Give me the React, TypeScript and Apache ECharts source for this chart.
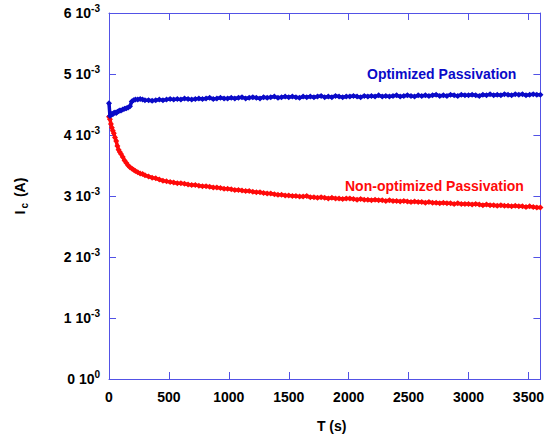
import React, { useEffect, useRef } from "react";
import * as echarts from "echarts";

const times = [
  0, 8, 16, 24, 32, 40, 50, 60, 70, 80, 90, 100, 115, 130, 145, 160, 175, 190, 205, 220, 240, 260, 280, 300,
  330, 360, 390, 420, 450, 480, 510, 540, 570, 600, 630, 660, 690, 720, 750, 780, 810, 840, 870, 900, 930, 960, 990,
  1020, 1050, 1080, 1110, 1140, 1170, 1200, 1230, 1260, 1290, 1320, 1350, 1380, 1410, 1440, 1470, 1500,
  1530, 1560, 1590, 1620, 1650, 1680, 1710, 1740, 1770, 1800, 1830, 1860, 1890, 1920, 1950, 1980, 2010,
  2040, 2070, 2100, 2130, 2160, 2190, 2220, 2250, 2280, 2310, 2340, 2370, 2400, 2430, 2460, 2490, 2520,
  2550, 2580, 2610, 2640, 2670, 2700, 2730, 2760, 2790, 2820, 2850, 2880, 2910, 2940, 2970, 3000,
  3030, 3060, 3090, 3120, 3150, 3180, 3210, 3240, 3270, 3300, 3330, 3360, 3390, 3420, 3450, 3480, 3510,
  3540, 3570, 3600,
];

// values in mA (x 1e-3 A)
const optimized = [
  4.52, 4.31, 4.33, 4.35, 4.34, 4.36, 4.37, 4.36, 4.38, 4.39, 4.40, 4.40, 4.42, 4.43, 4.44, 4.45, 4.47, 4.55, 4.57, 4.58, 4.58, 4.59, 4.58, 4.57,
  4.57, 4.56, 4.57, 4.58, 4.57, 4.58, 4.59, 4.58, 4.59, 4.58, 4.60, 4.59, 4.58, 4.59, 4.60, 4.59, 4.60, 4.61, 4.59, 4.60, 4.61, 4.60, 4.60,
  4.61, 4.60, 4.61, 4.62, 4.60, 4.61, 4.62, 4.61, 4.60, 4.62, 4.61, 4.62, 4.63, 4.61, 4.62, 4.63, 4.62,
  4.63, 4.62, 4.61, 4.63, 4.62, 4.63, 4.62, 4.63, 4.64, 4.62, 4.63, 4.62, 4.64, 4.63, 4.62, 4.63, 4.63,
  4.64, 4.63, 4.62, 4.64, 4.63, 4.64, 4.63, 4.65, 4.63, 4.64, 4.63, 4.64, 4.65, 4.63, 4.64, 4.65, 4.64,
  4.63, 4.65, 4.64, 4.65, 4.64, 4.65, 4.66, 4.64, 4.65, 4.64, 4.66, 4.65, 4.64, 4.66, 4.65, 4.65,
  4.66, 4.65, 4.64, 4.66, 4.65, 4.67, 4.65, 4.66, 4.65, 4.67, 4.66, 4.65, 4.67, 4.66, 4.67, 4.65, 4.66,
  4.67, 4.66, 4.66,
];

const nonOptimized = [
  4.30, 4.26, 4.18, 4.12, 4.07, 4.03, 3.96, 3.90, 3.82, 3.76, 3.72, 3.69, 3.64, 3.58, 3.54, 3.50, 3.47, 3.45, 3.43, 3.41, 3.39, 3.37, 3.36, 3.34,
  3.32, 3.30, 3.29, 3.27, 3.25, 3.24, 3.23, 3.22, 3.21, 3.21, 3.20, 3.19, 3.18, 3.18, 3.17, 3.16, 3.16, 3.15, 3.14, 3.14, 3.13, 3.12, 3.12,
  3.11, 3.10, 3.10, 3.09, 3.08, 3.08, 3.07, 3.06, 3.06, 3.05, 3.04, 3.04, 3.03, 3.02, 3.02, 3.01, 3.01,
  3.00, 3.00, 2.99, 2.99, 3.00, 2.98, 2.98, 2.97, 2.98, 2.97, 2.96, 2.97, 2.96, 2.96, 2.95, 2.96, 2.96,
  2.95, 2.94, 2.95, 2.94, 2.94, 2.93, 2.94, 2.93, 2.93, 2.92, 2.93, 2.92, 2.92, 2.91, 2.92, 2.91, 2.90,
  2.91, 2.90, 2.90, 2.89, 2.90, 2.89, 2.89, 2.88, 2.89, 2.88, 2.88, 2.87, 2.88, 2.87, 2.87, 2.87,
  2.86, 2.87, 2.86, 2.85, 2.86, 2.85, 2.85, 2.84, 2.85, 2.84, 2.84, 2.83, 2.84, 2.83, 2.83, 2.82, 2.83,
  2.82, 2.81, 2.81,
];

const xTicks = [0, 500, 1000, 1500, 2000, 2500, 3000, 3500];
const yTickMantissas = [0, 1, 2, 3, 4, 5, 6];

const AXIS_COLOR = "#5252e6";
const FONT = "'Liberation Sans', Arial, sans-serif";

export default function App() {
  const ref = useRef<HTMLDivElement>(null);
  useEffect(() => {
    if (!ref.current) return;
    const chart = echarts.init(ref.current, undefined, { renderer: "svg" });
    const blueData = times.map((t, i) => [t, optimized[i] * 1e-3]);
    const redData = times.map((t, i) => [t, nonOptimized[i] * 1e-3]);
    const axisLine = { show: true, onZero: false, lineStyle: { color: AXIS_COLOR, width: 1 } };
    const axisTick = { show: true, inside: true, length: 7, lineStyle: { color: AXIS_COLOR, width: 1 } };
    chart.setOption({
      animation: false,
      backgroundColor: "#ffffff",
      grid: { left: 109, right: 5, top: 13, bottom: 56, containLabel: false },
      xAxis: [
        {
          type: "value",
          position: "bottom",
          min: 0,
          max: 3600,
          interval: 500,
          axisLine,
          axisTick,
          splitLine: { show: false },
          axisLabel: {
            color: "#000",
            fontSize: 14,
            fontWeight: "bold",
            fontFamily: FONT,
            margin: 11,
            showMaxLabel: false,
            formatter: (v: number) => (xTicks.includes(v) ? String(v) : ""),
          },
          name: "T (s)",
          nameLocation: "middle",
          nameGap: 40,
          nameTextStyle: { color: "#000", fontSize: 14, fontWeight: "bold", fontFamily: FONT, padding: [0, 0, 0, 14] },
        },
        {
          type: "value",
          position: "top",
          min: 0,
          max: 3600,
          interval: 500,
          axisLine,
          axisTick,
          splitLine: { show: false },
          axisLabel: { show: false },
        },
      ],
      yAxis: [
        {
          type: "value",
          position: "left",
          min: 0,
          max: 0.006,
          interval: 0.001,
          axisLine,
          axisTick,
          splitLine: { show: false },
          axisLabel: {
            margin: 9,
            formatter: (v: number) => {
              const n = Math.round(v * 1000);
              if (!yTickMantissas.includes(n)) return "";
              return `{a|${n} 10}{s|${n === 0 ? "0" : "-3"}}`;
            },
            rich: {
              a: { color: "#000", fontSize: 14, fontWeight: "bold", fontFamily: FONT, lineHeight: 18 },
              s: { color: "#000", fontSize: 10, fontWeight: "bold", fontFamily: FONT, lineHeight: 18, padding: [0, 0, 9, 0] },
            },
          },
          name: "{a|I}{s|c}{a| (A)}",
          nameLocation: "middle",
          nameRotate: 90,
          nameGap: 80,
          nameTextStyle: {
            rich: {
              a: { color: "#000", fontSize: 14, fontWeight: "bold", fontFamily: FONT, lineHeight: 18 },
              s: { color: "#000", fontSize: 10, fontWeight: "bold", fontFamily: FONT, lineHeight: 18, padding: [8, 2, 0, 2] },
            },
          },
        },
        {
          type: "value",
          position: "right",
          min: 0,
          max: 0.006,
          interval: 0.001,
          axisLine,
          axisTick,
          splitLine: { show: false },
          axisLabel: { show: false },
        },
      ],
      series: [
        {
          name: "Optimized Passivation",
          type: "line",
          data: blueData,
          symbol: "diamond",
          symbolSize: 6,
          showSymbol: true,
          itemStyle: { color: "#0a0ac8" },
          lineStyle: { color: "#0a0ac8", width: 3.5 },
          z: 3,
        },
        {
          name: "Non-optimized Passivation",
          type: "line",
          data: redData,
          symbol: "diamond",
          symbolSize: 6,
          showSymbol: true,
          itemStyle: { color: "#ff0a0a" },
          lineStyle: { color: "#ff0a0a", width: 3.5 },
          z: 2,
        },
      ],
      graphic: [
        {
          type: "text",
          x: 367,
          y: 74,
          style: {
            text: "Optimized Passivation",
            fill: "#0a0ac8",
            font: `bold 14px ${FONT}`,
            verticalAlign: "middle",
          },
        },
        {
          type: "text",
          x: 345,
          y: 186,
          style: {
            text: "Non-optimized Passivation",
            fill: "#ff0a0a",
            font: `bold 14px ${FONT}`,
            verticalAlign: "middle",
          },
        },
      ],
    });
    return () => chart.dispose();
  }, []);
  return <div ref={ref} style={{ width: 547, height: 438, position: "absolute", left: 0, top: 0 }} />;
}
